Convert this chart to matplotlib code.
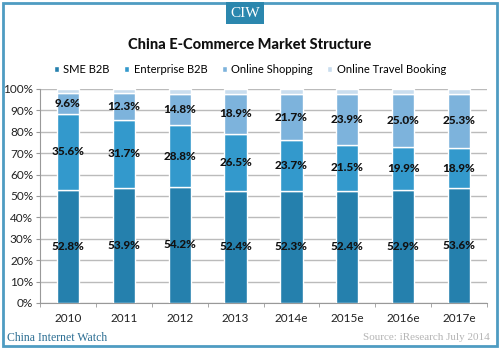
import numpy as np
import matplotlib.pyplot as plt
from matplotlib.patches import Rectangle

plt.rcParams['font.family'] = ['Lato', 'DejaVu Sans']

years = ['2010', '2011', '2012', '2013', '2014e', '2015e', '2016e', '2017e']
sme_b2b = [52.8, 53.9, 54.2, 52.4, 52.3, 52.4, 52.9, 53.6]
enterprise_b2b = [35.6, 31.7, 28.8, 26.5, 23.7, 21.5, 19.9, 18.9]
online_shopping = [9.6, 12.3, 14.8, 18.9, 21.7, 23.9, 25.0, 25.3]
travel_booking = [2.0, 2.1, 2.2, 2.2, 2.3, 2.2, 2.2, 2.2]

series_names = ['SME B2B', 'Enterprise B2B', 'Online Shopping', 'Online Travel Booking']
colors = ['#2580AD', '#3399CC', '#7DB3DC', '#C9DDEE']

fig = plt.figure(figsize=(5.0, 3.49), dpi=100)
ax = fig.add_axes([0.08, 0.132, 0.894, 0.613])

x = np.arange(len(years))
bottom = np.zeros(len(years))
series = [sme_b2b, enterprise_b2b, online_shopping, travel_booking]
for vals, name, c, i in zip(series, series_names, colors, range(4)):
    vals = np.array(vals)
    ax.bar(x, vals, 0.4, bottom=bottom, color=c, edgecolor='white', lw=1.0,
           label=name, zorder=3)
    if i < 3:
        for xi, b, v in zip(x, bottom, vals):
            ax.text(xi, b + v / 2, f'{v:.1f}%', ha='center', va='center',
                    fontsize=8.5, fontweight='black', color='#111111', zorder=4)
    bottom += vals

ax.set_xlim(-0.5, 7.5)
ax.set_ylim(0, 100)
ax.set_yticks(np.arange(0, 101, 10))
ax.set_yticklabels([f'{v}%' for v in range(0, 101, 10)], fontsize=8.5, color='#222222')
ax.set_xticks(x)
ax.set_xticklabels(years, fontsize=8.5, color='#222222')
ax.set_xticks(np.arange(-0.5, 8, 1), minor=True)
ax.tick_params(axis='x', which='major', length=0, pad=7)
ax.tick_params(axis='x', which='minor', length=3, color='#999999')
ax.tick_params(axis='y', length=3, color='#999999', pad=2)
ax.grid(axis='y', color='#BBBBBB', lw=1, zorder=0)
for s in ['top', 'right']:
    ax.spines[s].set_visible(False)
for s in ['left', 'bottom']:
    ax.spines[s].set_color('#999999')

fig.text(0.5, 0.871, 'China E-Commerce Market Structure', ha='center', va='center',
         fontsize=10.5, fontweight='black', color='#111111')
fig.legend(loc='center', bbox_to_anchor=(0.5, 0.80), ncol=4, frameon=False,
           fontsize=8, handlelength=0.45, handleheight=0.45, handletextpad=0.4,
           columnspacing=1.3)

# frame and logo box
fig.patches.append(Rectangle((0.006, 0.008), 0.988, 0.984, transform=fig.transFigure,
                             fill=False, edgecolor='#4E9CC2', lw=2))
fig.patches.append(Rectangle((0.452, 0.931), 0.076, 0.063, transform=fig.transFigure,
                             facecolor='#2B87AE', edgecolor='none'))
fig.text(0.49, 0.962, 'CIW', ha='center', va='center', fontsize=11,
         family='Liberation Serif', color='white')
fig.text(0.014, 0.032, 'China Internet Watch', ha='left', va='center', fontsize=8.5,
         family='Liberation Serif', color='#2C6E93')
fig.text(0.98, 0.032, 'Source: iResearch July 2014', ha='right', va='center', fontsize=8,
         family='Liberation Serif', color='#B5B5B5')

fig.savefig('out.png', dpi=100)
